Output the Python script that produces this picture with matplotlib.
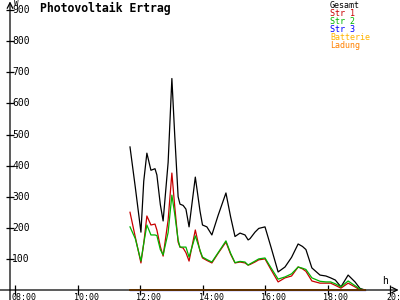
import matplotlib
matplotlib.use("Agg")
import matplotlib.pyplot as plt

# hours of day (decimal) and power in W
times = [11.68, 11.85, 12.03, 12.12, 12.22, 12.35, 12.48, 12.54, 12.65, 12.74,
         12.90, 13.02, 13.11, 13.22, 13.28, 13.38, 13.47, 13.57, 13.77, 13.92,
         14.00, 14.14, 14.30, 14.50, 14.75, 14.90, 15.04, 15.20, 15.36, 15.46,
         15.52, 15.68, 15.80, 16.00, 16.20, 16.42, 16.64, 16.85, 17.06, 17.20,
         17.31, 17.50, 17.76, 17.95, 18.10, 18.25, 18.43, 18.66, 18.88, 19.04,
         19.20]
gesamt = [460, 330, 186, 350, 440, 385, 390, 370, 275, 222,
          410, 680, 500, 300, 276, 272, 260, 203, 363, 254,
          209, 203, 177, 240, 312, 235, 172, 183, 177, 161,
          165, 186, 198, 203, 135, 58, 74, 105, 148, 140,
          130, 71, 48, 45, 39, 32, 10, 48, 26, 5,
          0]
str1 = [250, 170, 87, 150, 238, 209, 212, 193, 140, 109,
        225, 376, 270, 154, 138, 135, 120, 93, 193, 125,
        103, 95, 87, 118, 154, 115, 87, 90, 87, 80,
        82, 90, 97, 100, 64, 26, 39, 45, 74, 68,
        60, 29, 22, 22, 22, 15, 6, 22, 10, 0,
        0]
str2 = [203, 165, 93, 150, 209, 177, 177, 175, 130, 113,
        185, 305, 245, 161, 138, 138, 138, 106, 174, 128,
        106, 98, 90, 120, 158, 118, 88, 92, 90, 80,
        84, 93, 100, 103, 70, 35, 42, 52, 74, 70,
        66, 39, 28, 26, 26, 20, 10, 29, 14, 3,
        0]
flat_times = [11.68, 19.20]
str3 = [0, 0]
batterie = [0, 0]
ladung = [0, 0]

y_ticks = [100, 200, 300, 400, 500, 600, 700, 800, 900]
x_ticks = [8, 10, 12, 14, 16, 18, 20]
x_labels = ["08:00", "10:00", "12:00", "14:00", "16:00", "18:00", "20:00"]

legend_names = ["Gesamt", "Str 1", "Str 2", "Str 3", "Batterie", "Ladung"]
COLORS = ["#000000", "#c80000", "#00b400", "#0000ff", "#ffb400", "#ff8000"]

MONO = "DejaVu Sans Mono"
W, H = 400, 300
PX_PER_H = 31.25
PX_PER_W = 0.311
X0_PX, Y0_PX = 15, 290       # pixel position of 08:00 / 0 W
X_MIN = 8 - X0_PX / PX_PER_H
X_MAX = 8 + (W - X0_PX) / PX_PER_H
Y_MIN = -(H - Y0_PX) / PX_PER_W
Y_MAX = Y0_PX / PX_PER_W
YAXIS_T = 8 - 5 / PX_PER_H


def px(x, y):
    return x / W, 1 - y / H


fig = plt.figure(figsize=(4, 3), dpi=100)
fig.patch.set_facecolor("white")
ax = fig.add_axes([0, 0, 1, 1])
ax.set_xlim(X_MIN, X_MAX)
ax.set_ylim(Y_MIN, Y_MAX)
ax.axis("off")

# axes with arrows
ax.annotate("", xy=(X_MAX, 0), xytext=(X_MIN, 0),
            arrowprops=dict(arrowstyle="->", lw=0.9, color="black",
                            shrinkA=0, shrinkB=1))
ax.annotate("", xy=(YAXIS_T, Y_MAX), xytext=(YAXIS_T, Y_MIN),
            arrowprops=dict(arrowstyle="->", lw=0.9, color="black",
                            shrinkA=0, shrinkB=1))

# ticks
ax.plot([YAXIS_T] * len(y_ticks), y_ticks, ls="none", marker="_",
        ms=6, mew=0.9, color="black")
ax.plot(x_ticks, [0] * len(x_ticks), ls="none", marker="|",
        ms=7, mew=0.9, color="black")
for v in y_ticks:
    ax.text(8 - 3 / PX_PER_H, v, str(v), ha="left", va="center",
            fontsize=7, family=MONO, color="black")
for t, lbl in zip(x_ticks, x_labels):
    ax.text(t - 4 / PX_PER_H, -3 / PX_PER_W, lbl, ha="left", va="top",
            fontsize=6, family=MONO, color="black")

# series
lw = 0.9
ax.plot(times, gesamt, color=COLORS[0], lw=lw)
ax.plot(times, str1, color=COLORS[1], lw=lw)
ax.plot(times, str2, color=COLORS[2], lw=lw)
ax.plot(flat_times, str3, color=COLORS[3], lw=lw)
ax.plot(flat_times, batterie, color=COLORS[4], lw=1.2)
ax.plot(flat_times, ladung, color=COLORS[5], lw=1.2)

# labels
fig.text(*px(40, 2), "Photovoltaik Ertrag", ha="left", va="top",
         fontsize=8.3, family=MONO, fontweight="bold")
fig.text(*px(14, -1), "W", ha="left", va="top", fontsize=5.5, family=MONO)
fig.text(*px(385, 281), "h", ha="center", va="center", fontsize=7, family=MONO)

for i, (name, c) in enumerate(zip(legend_names, COLORS)):
    fig.text(*px(330, 0.5 + 8 * i), name, ha="left", va="top",
             fontsize=6, family=MONO, color=c)

fig.savefig("out.png", dpi=100, facecolor="white")
